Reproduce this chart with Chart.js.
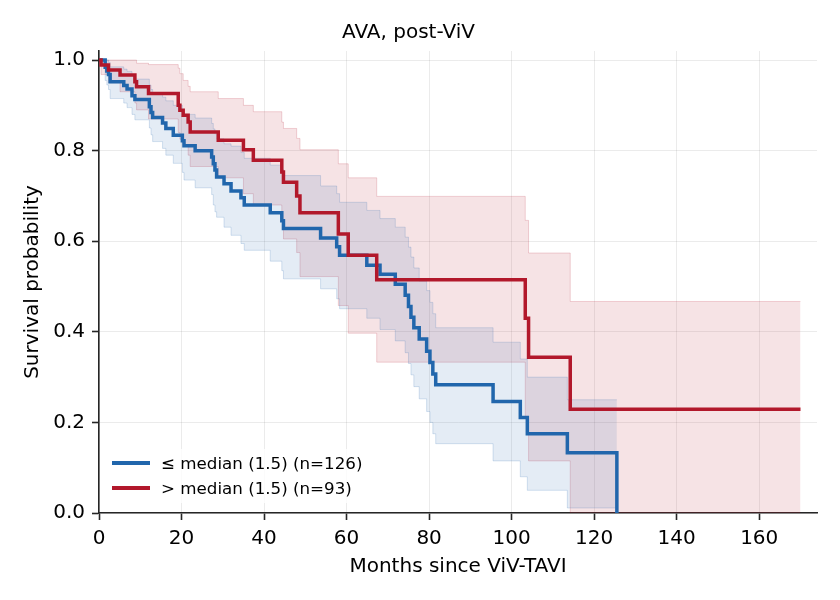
<!DOCTYPE html>
<html>
<head>
<meta charset="utf-8">
<title>AVA, post-ViV</title>
<script src="https://cdn.jsdelivr.net/npm/chart.js@4.4.1/dist/chart.umd.min.js"></script>
<style>
  body { margin: 0; background: #fff; }
  #wrap { position: relative; width: 840px; height: 600px; }
  #legend {
    position: absolute; left: 105px; top: 449px; width: 270px; height: 54px;
    background: rgba(255,255,255,0.8);
    font-family: 'DejaVu Sans', sans-serif; font-size: 16.7px; color: #000;
  }
  .row { position: absolute; left: 0; height: 24px; line-height: 24px; white-space: nowrap; }
  .swatch { position: absolute; left: 7px; top: 10px; width: 38px; height: 4px; }
  .label { position: absolute; left: 56px; top: 0; }
</style>
</head>
<body>
<div id="wrap">
  <canvas id="km" width="840" height="600"></canvas>
  <div id="legend">
    <div class="row" style="top:2px"><span class="swatch" style="background:#2166ac"></span><span class="label">≤ median (1.5) (n=126)</span></div>
    <div class="row" style="top:27px"><span class="swatch" style="background:#b2182b"></span><span class="label">&gt; median (1.5) (n=93)</span></div>
  </div>
</div>
<script>
// axes ticks
const xTickValues = [0, 20, 40, 60, 80, 100, 120, 140, 160];
const yTickValues = [0, 0.2, 0.4, 0.6, 0.8, 1.0];

// ≤ median group (n=126): event times (months), KM estimate, 95% CI
const blueTimes = [0, 1.5, 1.9, 2.3, 2.7, 6.0, 6.8, 8.0, 8.7, 12.2, 12.6, 13.0, 15.4, 16.2, 18.0, 20.2, 20.6, 23.3,
  27.3, 27.7, 28.1, 28.5, 30.3, 32.0, 34.4, 35.2, 41.5, 44.3, 44.7, 53.7, 57.6, 58.3, 64.9, 68.1, 71.8, 74.2,
  75.0, 75.6, 76.3, 77.6, 79.4, 80.2, 80.9, 81.6, 95.5, 102.1, 103.8, 113.5, 125.5];
const blueSurv = [1.0, 0.984, 0.976, 0.968, 0.952, 0.944, 0.936, 0.921, 0.913, 0.897, 0.884, 0.873, 0.861, 0.849, 0.834, 0.822, 0.811, 0.800,
  0.786, 0.771, 0.757, 0.742, 0.727, 0.711, 0.696, 0.680, 0.663, 0.645, 0.628, 0.607, 0.588, 0.569, 0.547, 0.527, 0.505, 0.481,
  0.456, 0.432, 0.409, 0.384, 0.357, 0.332, 0.307, 0.283, 0.246, 0.211, 0.175, 0.133, 0.0];
const blueLower = [1.0, 0.955, 0.945, 0.935, 0.915, 0.905, 0.895, 0.880, 0.868, 0.850, 0.835, 0.820, 0.805, 0.790, 0.772, 0.752, 0.735, 0.718,
  0.703, 0.680, 0.665, 0.653, 0.631, 0.613, 0.595, 0.580, 0.556, 0.535, 0.517, 0.495, 0.473, 0.451, 0.430, 0.405, 0.380, 0.354,
  0.330, 0.305, 0.279, 0.252, 0.224, 0.200, 0.175, 0.153, 0.115, 0.080, 0.050, 0.011, 0.011];
const blueUpper = [1.0, 1.0, 1.0, 0.995, 0.985, 0.980, 0.975, 0.965, 0.958, 0.945, 0.935, 0.928, 0.918, 0.910, 0.900, 0.890, 0.880, 0.872,
  0.860, 0.848, 0.837, 0.826, 0.815, 0.810, 0.796, 0.783, 0.768, 0.758, 0.745, 0.722, 0.705, 0.686, 0.668, 0.650, 0.631, 0.609,
  0.587, 0.565, 0.541, 0.512, 0.491, 0.465, 0.440, 0.409, 0.377, 0.340, 0.300, 0.250, 0.250];

// > median group (n=93)
const redTimes = [0, 0.5, 2.3, 5.1, 8.7, 9.1, 12.0, 19.2, 19.6, 20.4, 21.6, 22.1, 28.9, 35.0, 37.4, 44.3, 44.7,
  47.9, 48.7, 58.0, 60.4, 67.3, 103.3, 104.1, 114.2, 170];
const redSurv = [1.0, 0.989, 0.978, 0.967, 0.952, 0.941, 0.926, 0.900, 0.889, 0.878, 0.863, 0.841, 0.823, 0.802, 0.779, 0.753, 0.730,
  0.700, 0.663, 0.616, 0.569, 0.515, 0.430, 0.344, 0.229, 0.229];
const redLower = [1.0, 0.968, 0.950, 0.930, 0.905, 0.890, 0.870, 0.840, 0.825, 0.810, 0.790, 0.765, 0.740, 0.705, 0.680, 0.645, 0.605,
  0.575, 0.522, 0.458, 0.397, 0.333, 0.210, 0.115, 0.0, 0.0];
const redUpper = [1.0, 1.0, 1.0, 1.0, 1.0, 0.993, 0.990, 0.982, 0.970, 0.955, 0.942, 0.930, 0.915, 0.900, 0.886, 0.863, 0.849,
  0.827, 0.802, 0.771, 0.740, 0.699, 0.646, 0.574, 0.467, 0.467];

const BLUE = '#2166ac', RED = '#b2182b';
const font = { family: 'DejaVu Sans', size: 20, weight: 'normal' };

function pts(times, vals) {
  return times.map((t, i) => ({ x: t, y: vals[i] }));
}

function band(times, vals, rgb, fill) {
  return {
    data: pts(times, vals),
    stepped: true,
    pointRadius: 0,
    borderWidth: 1,
    borderColor: `rgba(${rgb},0.18)`,
    backgroundColor: `rgba(${rgb},0.12)`,
    fill: fill,
    order: 2
  };
}

const datasets = [
  band(blueTimes, blueLower, '33,102,172', false),
  band(blueTimes, blueUpper, '33,102,172', '-1'),
  band(redTimes, redLower, '178,24,43', false),
  band(redTimes, redUpper, '178,24,43', '-1'),
  { label: '≤ median (1.5) (n=126)', data: pts(blueTimes, blueSurv), stepped: true, pointRadius: 0,
    borderColor: BLUE, borderWidth: 3.5, fill: false, order: 1 },
  { label: '> median (1.5) (n=93)', data: pts(redTimes, redSurv), stepped: true, pointRadius: 0,
    borderColor: RED, borderWidth: 3.5, fill: false, order: 0 }
];

const gridOpts = { color: 'rgba(0,0,0,0.08)', lineWidth: 1, tickColor: '#262626', tickLength: 7, tickWidth: 1.6 };
const borderOpts = { color: '#262626', width: 1.6 };

new Chart(document.getElementById('km').getContext('2d'), {
  type: 'line',
  data: { datasets },
  options: {
    responsive: false,
    animation: false,
    devicePixelRatio: 1,
    layout: { padding: { left: 0, right: 23, top: 0, bottom: 0 } },
    plugins: {
      legend: { display: false },
      tooltip: { enabled: false },
      title: { display: true, text: 'AVA, post-ViV', color: '#000', font, padding: { top: 21, bottom: 6 } }
    },
    scales: {
      x: {
        type: 'linear', min: 0, max: 174,
        afterFit: s => { s.height = 87; },
        afterBuildTicks: s => { s.ticks = xTickValues.map(v => ({ value: v })); },
        ticks: { color: '#000', font, padding: 7, maxRotation: 0, callback: v => String(v) },
        grid: gridOpts, border: borderOpts,
        title: { display: true, text: 'Months since ViV-TAVI', color: '#000', font, padding: { top: 0, bottom: 21 } }
      },
      y: {
        type: 'linear', min: 0, max: 1.02,
        afterFit: s => { s.width = 99; },
        afterBuildTicks: s => { s.ticks = yTickValues.map(v => ({ value: v })); },
        ticks: { color: '#000', font, padding: 7, callback: v => v.toFixed(1) },
        grid: gridOpts, border: borderOpts,
        title: { display: true, text: 'Survival probability', color: '#000', font, padding: { top: 21, bottom: 0 } }
      }
    }
  }
});
</script>
</body>
</html>
